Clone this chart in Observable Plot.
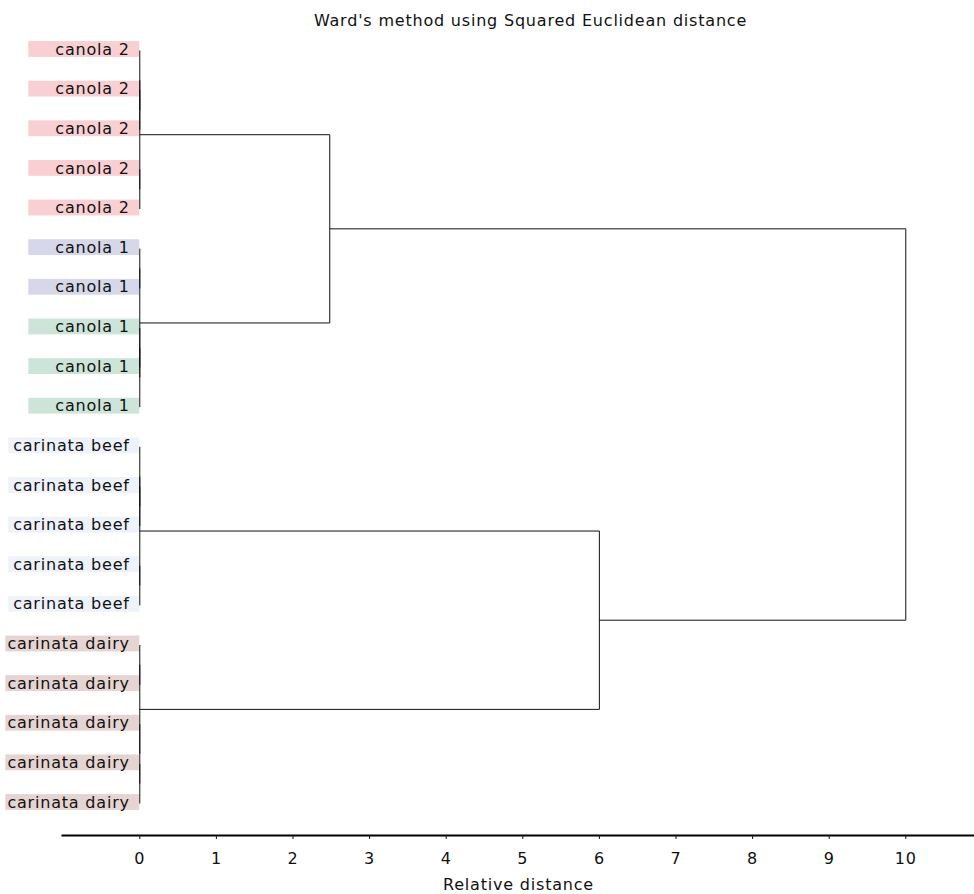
<!DOCTYPE html>
<html><head><meta charset="utf-8">
<script src="https://cdn.jsdelivr.net/npm/d3@7"></script>
<script src="https://cdn.jsdelivr.net/npm/@observablehq/plot@0.6"></script>
<style>body{margin:0;background:#fff} svg text{letter-spacing:0.8px}</style>
</head><body><div id="chart"></div>
<script>
// ---- data ----
const leafLabels = [
  "canola 2","canola 2","canola 2","canola 2","canola 2",
  "canola 1","canola 1","canola 1","canola 1","canola 1",
  "carinata beef","carinata beef","carinata beef","carinata beef","carinata beef",
  "carinata dairy","carinata dairy","carinata dairy","carinata dairy","carinata dairy"
];
const leafClass = [
  "c2","c2","c2","c2","c2",
  "c1a","c1a","c1b","c1b","c1b",
  "beef","beef","beef","beef","beef",
  "dairy","dairy","dairy","dairy","dairy"
];
// linkage: [left node, right node, merge distance]; leaves are 0..19, new nodes 20..
const merges = [
  [1, 2, 0], [0, 20, 0], [3, 4, 0], [21, 22, 0],
  [5, 6, 0], [7, 8, 0], [25, 9, 0], [24, 26, 0],
  [11, 12, 0], [10, 28, 0], [13, 14, 0], [29, 30, 0],
  [15, 16, 0], [18, 19, 0], [17, 33, 0], [32, 34, 0],
  [23, 27, 2.48], [31, 35, 6.0], [36, 37, 10.0]
];
const xTicks = [0,1,2,3,4,5,6,7,8,9,10];
const titleText = "Ward's method using Squared Euclidean distance";
const xLabelText = "Relative distance";

// ---- style ----
const classColors = {c2:"#f8d0d3", c1a:"#d6d8ea", c1b:"#cde5d9", beef:"#eef2fa", dairy:"#e6d4d2"};
const boxWidthPx = {c2:111, c1a:111, c1b:111, beef:131, dairy:134};
const W = 974, H = 894, mL = 62, mR = 0, mB = 59;
const xDomain = [-1.009, 10.897];
const pxPerUnit = (W - mL - mR) / (xDomain[1] - xDomain[0]);

// ---- build tree geometry ----
const n = leafLabels.length;
const nodeY = leafLabels.map((_, i) => i);
const nodeH = leafLabels.map(() => 0);
const segs = [];
merges.forEach(([a, b, h]) => {
  const ya = nodeY[a], yb = nodeY[b];
  segs.push({x1: nodeH[a], y1: ya, x2: h, y2: ya});
  segs.push({x1: nodeH[b], y1: yb, x2: h, y2: yb});
  segs.push({x1: h, y1: ya, x2: h, y2: yb});
  nodeY.push((ya + yb) / 2);
  nodeH.push(h);
});
const leaves = leafLabels.map((label, i) => ({label, i, cls: leafClass[i]}));

const chart = Plot.plot({
  width: W, height: H,
  marginLeft: mL, marginRight: mR, marginTop: 0, marginBottom: mB,
  style: {fontFamily: "'DejaVu Sans', sans-serif", fontSize: "16px", color: "#111", background: "#fff"},
  x: {domain: xDomain, ticks: xTicks, tickSize: 4, tickPadding: 13, label: null, line: true, tickFormat: d => String(d)},
  y: {domain: [0, n - 1], range: [50, 803], axis: null},
  marks: [
    Plot.rect(leaves, {
      x1: d => -boxWidthPx[d.cls] / pxPerUnit, x2: 0,
      y1: d => d.i - 0.2, y2: d => d.i + 0.2, dy: -1,
      fill: d => classColors[d.cls]
    }),
    Plot.link(segs, {x1: "x1", y1: "y1", x2: "x2", y2: "y2", stroke: "#111", strokeWidth: 1}),
    Plot.text(leaves, {x: 0, y: "i", text: "label", textAnchor: "end", dx: -10, dy: -1, lineAnchor: "middle", fill: "#111", fontSize: 16}),
    Plot.text([titleText], {frameAnchor: "top", dy: 20, dx: 12, lineAnchor: "middle", fontSize: 16, fill: "#111"}),
    Plot.text([xLabelText], {frameAnchor: "bottom", dy: 49, lineAnchor: "middle", fontSize: 16, fill: "#111"})
  ]
});
document.getElementById("chart").appendChild(chart);
// thicken axis line
chart.querySelectorAll('[aria-label="frame"] *, [aria-label="frame"]').forEach(el => {
  if (el.tagName === "line" || el.tagName === "path" || el.tagName === "rect") { el.setAttribute("stroke-width", 2); el.setAttribute("stroke", "#000"); }
});
</script>
</body></html>
